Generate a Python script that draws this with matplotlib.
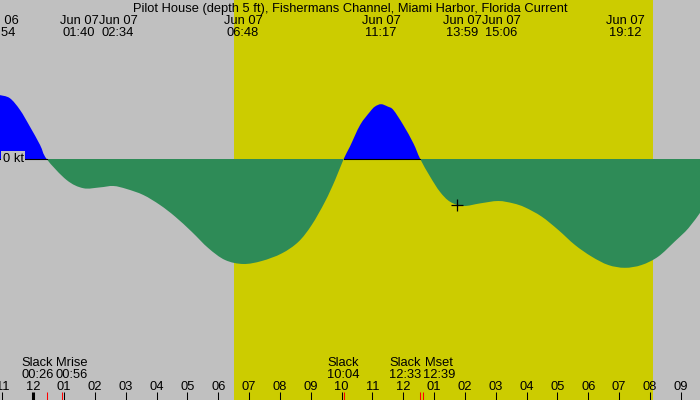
import numpy as np
import matplotlib
matplotlib.use("Agg")
import matplotlib.pyplot as plt
from matplotlib.path import Path
from matplotlib.patches import PathPatch, Rectangle

plt.rcParams['font.family'] = ['Liberation Sans', 'DejaVu Sans']

# current speed (kt) against hours since Jun 07 00:00
hours = np.array([-1.10, -0.76, -0.43, -0.11, 0.22, 0.433, 1.08, 1.62, 2.16, 2.60,
                  3.03, 3.57, 4.11, 4.60, 5.14, 5.68, 6.22, 6.81, 7.41, 8.06,
                  8.60, 9.03, 9.46, 9.79, 10.067, 10.27, 10.60, 10.92, 11.08, 11.28,
                  11.50, 11.68, 12.00, 12.33, 12.55, 12.87, 13.19, 13.52, 13.95, 14.49,
                  15.08, 15.57, 15.95, 16.49, 17.03, 17.57, 18.11, 18.65, 19.19, 19.73,
                  20.27, 20.81, 21.25, 21.65])
speed = np.array([1.60, 1.52, 1.225, 0.81, 0.35, 0.0, -0.525, -0.73, -0.71, -0.675,
                  -0.75, -0.90, -1.15, -1.44, -1.82, -2.23, -2.525, -2.625, -2.55, -2.36,
                  -2.07, -1.65, -1.07, -0.525, 0.0, 0.31, 0.85, 1.18, 1.31, 1.37,
                  1.31, 1.225, 0.85, 0.39, 0.0, -0.44, -0.82, -1.07, -1.175, -1.11,
                  -1.05, -1.11, -1.21, -1.44, -1.775, -2.15, -2.44, -2.65, -2.72, -2.65,
                  -2.44, -2.06, -1.73, -1.32])

title = "Pilot House (depth 5 ft), Fishermans Channel, Miami Harbor, Florida Current"

# max / min current events along the top
top_dates = ["Jun 06", "Jun 07", "Jun 07", "Jun 07", "Jun 07", "Jun 07", "Jun 07", "Jun 07"]
top_times = ["22:54", "01:40", "02:34", "06:48", "11:17", "13:59", "15:06", "19:12"]

# slack and moon events along the bottom
bot_names = ["Slack", "Mrise", "Slack", "Slack", "Mset"]
bot_times = ["00:26", "00:56", "10:04", "12:33", "12:39"]

hour_ticks = list(range(-1, 22))
hour_labels = ["11", "12", "01", "02", "03", "04", "05", "06", "07", "08", "09", "10",
               "11", "12", "01", "02", "03", "04", "05", "06", "07", "08", "09"]

sunrise, sunset = "06:31", "20:06"
now_time, now_speed = "13:44", -1.15


def to_hours(s, date="Jun 07"):
    h, m = s.split(":")
    off = -24 if date == "Jun 06" else 0
    return int(h) + int(m) / 60 + off


def spread(pos, min_sep):
    pos = list(pos)
    for i in range(len(pos) - 1):
        gap = pos[i + 1] - pos[i]
        if gap < min_sep:
            d = (min_sep - gap) / 2
            pos[i] -= d
            pos[i + 1] += d
    return pos


def smooth_path(x, y):
    # catmull-rom through the read points, as cubic bezier segments
    pts = np.column_stack([x, y])
    n = len(pts)
    verts = [pts[0]]
    codes = [Path.MOVETO]
    for i in range(n - 1):
        p0 = pts[max(i - 1, 0)]
        p1 = pts[i]
        p2 = pts[i + 1]
        p3 = pts[min(i + 2, n - 1)]
        verts += [p1 + (p2 - p0) / 6, p2 - (p3 - p1) / 6, p2]
        codes += [Path.CURVE4] * 3
    verts += [(x[-1], 0), (x[0], 0), (x[0], 0)]
    codes += [Path.LINETO, Path.LINETO, Path.CLOSEPOLY]
    return Path(verts, codes)


H = 400
fig = plt.figure(figsize=(7, 4), dpi=100)
ax = fig.add_axes([0, 0, 1, 1])
ax.set_facecolor('#c0c0c0')
ax.set_xlim(-1.08, 21.625)
ax.set_ylim(-6.025, 3.975)
ax.axis('off')
fig.patch.set_facecolor('#c0c0c0')


def py(y):
    return 1 - y / H


ax.axvspan(to_hours(sunrise), to_hours(sunset), color='#cccc00', lw=0, zorder=0)

curve = smooth_path(hours, speed)
flood = PathPatch(curve, facecolor='#0000ff', lw=0, zorder=2)
ebb = PathPatch(curve, facecolor='#2e8b57', lw=0, zorder=2)
ax.add_patch(flood)
ax.add_patch(ebb)
up = Rectangle((hours[0] - 1, 0), 30, 10, transform=ax.transData)
down = Rectangle((hours[0] - 1, -10), 30, 10, transform=ax.transData)
flood.set_clip_path(up)
ebb.set_clip_path(down)

ax.plot(hours, np.where(speed >= 0, 0.0, np.nan), color='black', lw=0.8, zorder=3)

fs = 9.3
trans = ax.get_xaxis_transform()
ax.text(0.004, 0, "0 kt", ha='left', va='center', fontsize=fs, zorder=4,
        transform=trans.__class__(ax.transAxes, ax.transData),
        bbox=dict(facecolor='#c0c0c0', edgecolor='none', pad=1.2))

ax.text(0.5, py(11.7), title, transform=ax.transAxes, ha='center', va='baseline',
        fontsize=fs)

top_pos = spread([to_hours(t, d) for t, d in zip(top_times, top_dates)], 1.265)
for x, d, t in zip(top_pos, top_dates, top_times):
    ax.text(x, py(24), d, transform=trans, ha='center', va='baseline', fontsize=fs)
    ax.text(x, py(35.7), t, transform=trans, ha='center', va='baseline', fontsize=fs)

bot_hours = [to_hours(t) for t in bot_times]
bot_pos = spread(bot_hours, 1.10)
for x, n, t in zip(bot_pos, bot_names, bot_times):
    ax.text(x, py(366), n, transform=trans, ha='center', va='baseline', fontsize=fs)
    ax.text(x, py(377.5), t, transform=trans, ha='center', va='baseline', fontsize=fs)

for h, lab in zip(hour_ticks, hour_labels):
    ax.text(h, py(389.5), lab, transform=trans, ha='center', va='baseline', fontsize=fs)
    lw = 2.2 if h % 24 == 0 else 0.75
    ax.plot([h, h], [py(392), py(400)], transform=trans, color='black', lw=lw,
            solid_capstyle='butt', clip_on=False)

for h in bot_hours:
    ax.plot([h, h], [py(392), py(400)], transform=trans, color='red', lw=0.75,
            solid_capstyle='butt', clip_on=False)

ax.plot([to_hours(now_time)], [now_speed], marker='+', color='black', ms=8,
        mew=0.9, zorder=5)

fig.savefig("out.png", dpi=100, facecolor='#c0c0c0')
